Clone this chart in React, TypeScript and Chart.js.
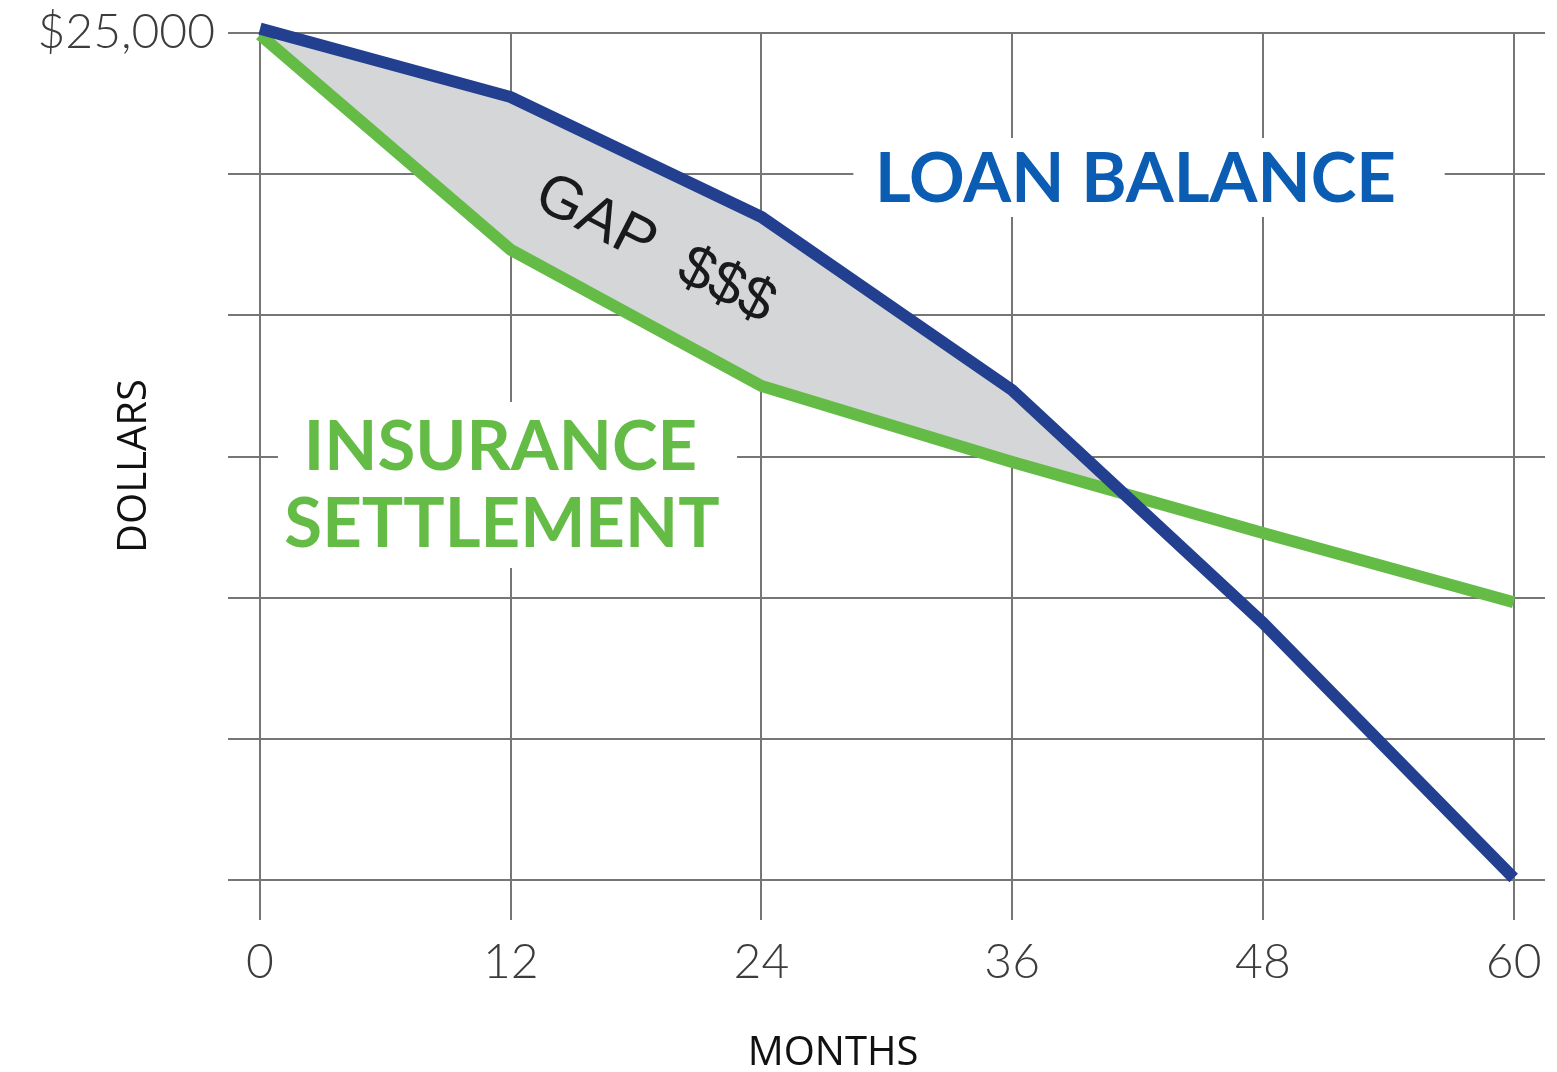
import { useEffect, useRef } from "react";
import { Chart, registerables } from "chart.js";

Chart.register(...registerables);

// ---- data ----
const months = [0, 12, 24, 36, 48, 60];
const loanBalance = [25130, 23110, 19570, 14460, 7590, 60];
const insuranceSettlement = [24950, 18600, 14580, 12340, 10240, 8200];
const yGridValues = [0, 4167, 8333, 12500, 16667, 20833, 25000];
const yLabeledValue = 25000;
const yTopLabel = "$25,000";
const xTitle = "MONTHS";
const yTitle = "DOLLARS";
const loanLabel = "LOAN BALANCE";
const insuranceLabel = ["INSURANCE", "SETTLEMENT"];
const gapLabel = "GAP  $$$";

const BLUE = "#22408F";
const GREEN = "#64BC46";
const LABEL_BLUE = "#0B5DB4";
const GRID = "#767676";
const GAP_FILL = "#D5D6D8";

const annotationPlugin = {
  id: "annotations",
  beforeDatasetsDraw(chart: any) {
    const { ctx, scales } = chart;
    const x = scales.x;
    const y = scales.y;
    ctx.save();
    ctx.fillStyle = "#ffffff";
    const box = (m0: number, m1: number, v0: number, v1: number) => {
      const px0 = x.getPixelForValue(m0);
      const px1 = x.getPixelForValue(m1);
      const py0 = y.getPixelForValue(v0);
      const py1 = y.getPixelForValue(v1);
      ctx.fillRect(px0, py0, px1 - px0, py1 - py0);
    };
    box(28.4, 56.7, 21900, 19570);
    box(0.86, 22.83, 14110, 9210);
    ctx.restore();
  },
  afterDatasetsDraw(chart: any) {
    const { ctx, scales } = chart;
    const x = scales.x;
    const y = scales.y;
    ctx.save();
    ctx.textAlign = "center";
    ctx.textBaseline = "alphabetic";
    ctx.fillStyle = LABEL_BLUE;
    ctx.font = "bold 69px Lato";
    ctx.fillText(loanLabel, x.getPixelForValue(41.9), y.getPixelForValue(20012));
    ctx.fillStyle = GREEN;
    ctx.fillText(insuranceLabel[0], x.getPixelForValue(11.51), y.getPixelForValue(12102));
    ctx.fillText(insuranceLabel[1], x.getPixelForValue(11.58), y.getPixelForValue(9829));

    ctx.translate(x.getPixelForValue(18.9), y.getPixelForValue(18600));
    ctx.rotate((27 * Math.PI) / 180);
    ctx.fillStyle = "#1a1a1a";
    ctx.font = "60px 'Liberation Sans'";
    ctx.textBaseline = "middle";
    ctx.fillText(gapLabel, 0, 0);
    ctx.restore();
  },
  afterDraw(chart: any) {
    const { ctx } = chart;
    ctx.save();
    ctx.fillStyle = "#111111";
    ctx.font = "40px 'Open Sans'";
    ctx.textAlign = "center";
    ctx.textBaseline = "middle";
    ctx.fillText(xTitle, 833, 1054);
    ctx.translate(135, 466);
    ctx.rotate(-Math.PI / 2);
    ctx.fillText(yTitle, 0, 0);
    ctx.restore();
  },
};

export default function App() {
  const canvasRef = useRef<HTMLCanvasElement | null>(null);

  useEffect(() => {
    const canvas = canvasRef.current;
    if (!canvas) return;
    const chart = new Chart(canvas, {
      type: "line",
      data: {
        datasets: [
          {
            label: "Loan Balance",
            data: months.map((m, i) => ({ x: m, y: loanBalance[i] })),
            borderColor: BLUE,
            borderWidth: 12,
            pointRadius: 0,
            tension: 0,
            clip: false as any,
            borderJoinStyle: "miter",
            fill: { target: 1, above: GAP_FILL, below: "rgba(0,0,0,0)" } as any,
          },
          {
            label: "Insurance Settlement",
            data: months.map((m, i) => ({ x: m, y: insuranceSettlement[i] })),
            borderColor: GREEN,
            borderWidth: 12,
            pointRadius: 0,
            tension: 0,
            clip: false as any,
            borderJoinStyle: "miter",
            fill: false,
          },
        ],
      },
      options: {
        animation: false,
        responsive: true,
        maintainAspectRatio: false,
        layout: { padding: { top: 33, right: 12, left: 0, bottom: 0 } },
        plugins: {
          legend: { display: false },
          tooltip: { enabled: false },
          filler: { drawTime: "beforeDatasetsDraw" } as any,
        },
        scales: {
          x: {
            type: "linear",
            min: 0,
            max: 61.5,
            afterBuildTicks: (scale: any) => {
              scale.ticks = months.map((v) => ({ value: v }));
            },
            afterFit: (scale: any) => {
              scale.height = 192;
            },
            grid: {
              color: GRID,
              lineWidth: 2,
              tickLength: 40,
              drawTicks: true,
            },
            border: { display: false },
            ticks: {
              padding: 14,
              color: "#3c3c3c",
              font: { family: "Lato", size: 48, weight: 300 as any },
              maxRotation: 0,
              autoSkip: false,
            },
          },
          y: {
            type: "linear",
            min: 0,
            max: 25000,
            afterBuildTicks: (scale: any) => {
              scale.ticks = yGridValues.map((v) => ({ value: v }));
            },
            afterFit: (scale: any) => {
              scale.width = 260;
              scale.paddingTop = 0;
              scale.paddingBottom = 0;
            },
            grid: {
              color: GRID,
              lineWidth: 2,
              tickLength: 32,
              drawTicks: true,
            },
            border: { display: false },
            ticks: {
              padding: 13,
              color: "#3c3c3c",
              font: { family: "Lato", size: 48, weight: 300 as any },
              autoSkip: false,
              callback: (v: any) => (Number(v) === yLabeledValue ? yTopLabel : ""),
            },
          },
        },
      },
      plugins: [annotationPlugin],
    });
    return () => chart.destroy();
  }, []);

  return (
    <div
      style={{
        position: "fixed",
        left: 0,
        top: 0,
        width: 1557,
        height: 1072,
        background: "#ffffff",
      }}
    >
      <canvas ref={canvasRef} />
    </div>
  );
}
